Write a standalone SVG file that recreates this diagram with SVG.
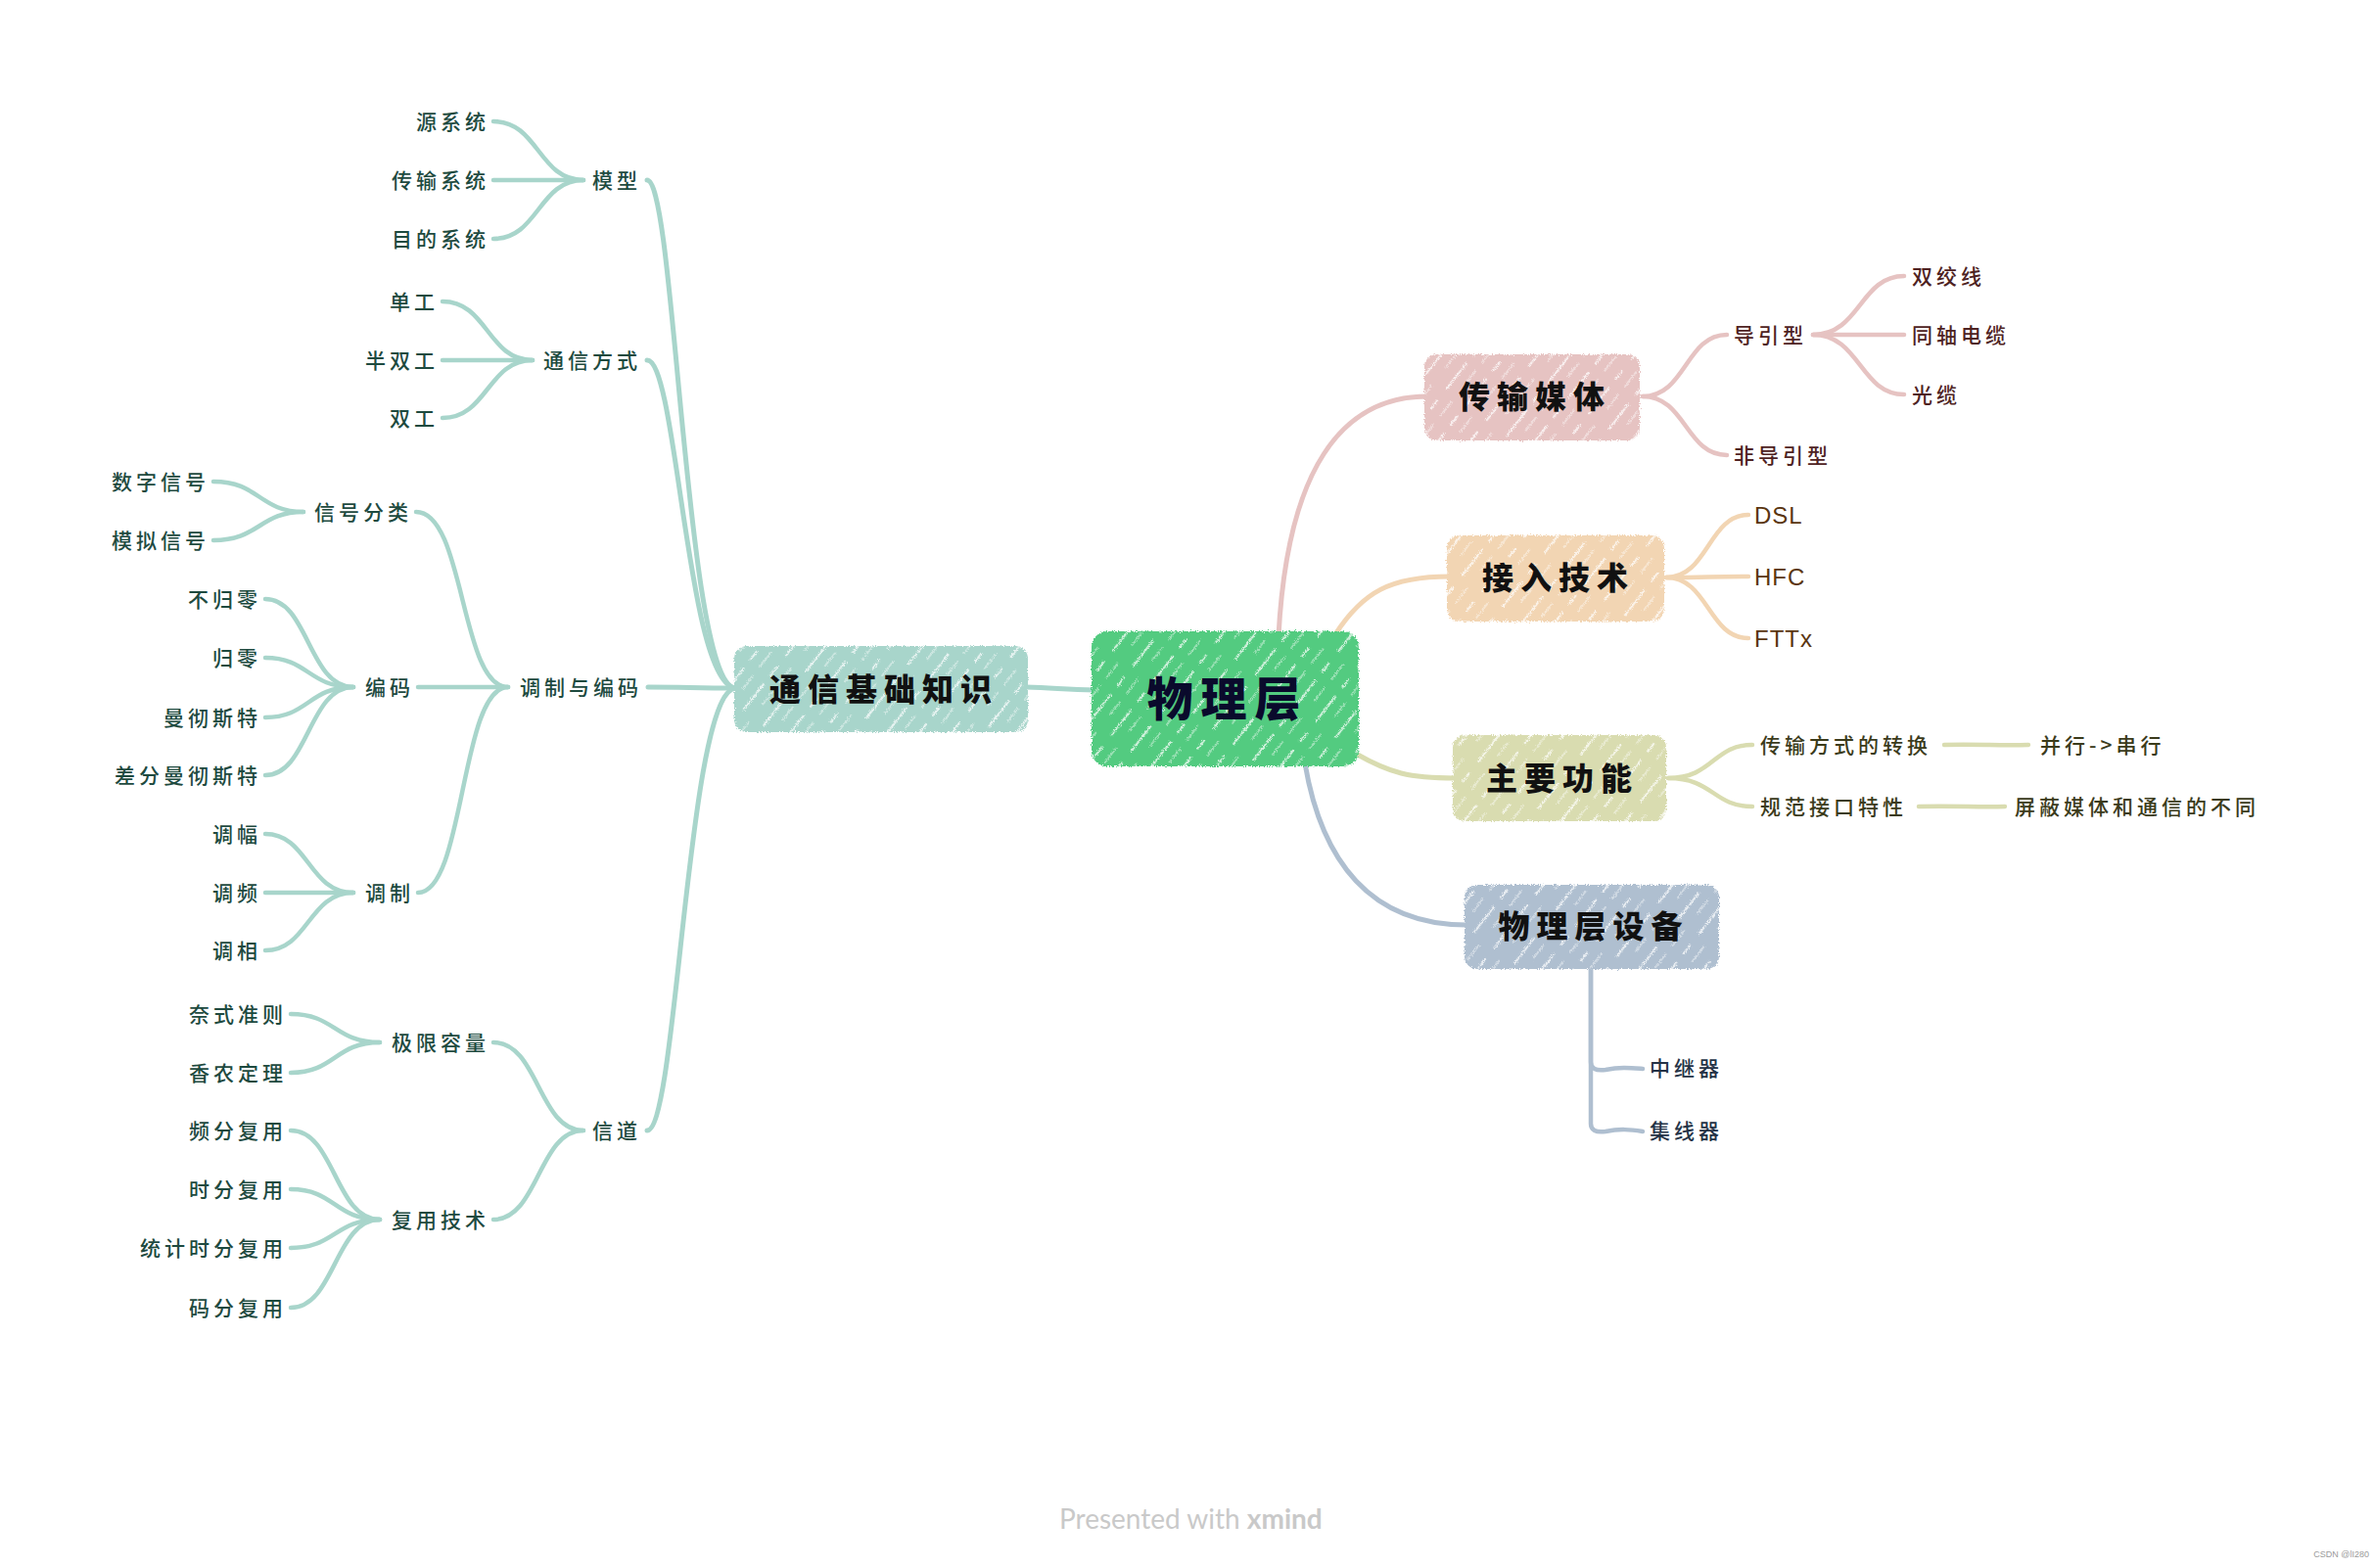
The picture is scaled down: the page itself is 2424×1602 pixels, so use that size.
<svg xmlns="http://www.w3.org/2000/svg" width="2424" height="1602" viewBox="0 0 2424 1602">
<defs>
  <pattern id="hatch" width="26" height="70" patternUnits="userSpaceOnUse" patternTransform="rotate(38)">
    <line x1="5" y1="0" x2="5" y2="70" stroke="#ffffff" stroke-width="2.2" stroke-opacity="0.7" stroke-dasharray="34 14 12 10"/>
    <line x1="17" y1="0" x2="17" y2="70" stroke="#ffffff" stroke-width="1.6" stroke-opacity="0.5" stroke-dasharray="18 22 20 10"/>
  </pattern>
  <filter id="rough" x="-5%" y="-10%" width="110%" height="120%">
    <feTurbulence type="fractalNoise" baseFrequency="0.9" numOctaves="2" seed="3" result="n"/>
    <feDisplacementMap in="SourceGraphic" in2="n" scale="5" xChannelSelector="R" yChannelSelector="G"/>
  </filter>
  <style>
    .c { fill: none; stroke-linecap: round; }
    .tl { stroke: #a8d5cb; }
    .pk { stroke: #e6c3c2; }
    .or { stroke: #f2d5b3; }
    .yg { stroke: #d9dcb0; }
    .bl { stroke: #afbfd0; }
    .w1 { stroke-width: 5; }
    .w2 { stroke-width: 4.5; }
    .sub { font-family: "Noto Sans CJK SC", "Noto Sans", sans-serif; font-size: 21px; font-weight: 500; letter-spacing: 4px; }
    .lt { fill: #1e4a3f; text-anchor: end; }
    .tpk { fill: #4e2222; }
    .tor { fill: #5a3510; }
    .tyg { fill: #3b3b1b; }
    .tbl { fill: #243246; }
    .main { font-family: "Noto Sans CJK SC", sans-serif; font-size: 32px; font-weight: 900; letter-spacing: 7px; fill: #111111; text-anchor: middle; }
    .lat { font-family: "Liberation Sans", Arial, sans-serif; font-size: 24px; letter-spacing: 1px; }
  </style>
</defs>
<rect width="2424" height="1602" fill="#ffffff"/>

<g id="connectors">
  <path class="c tl w1" d="M1048 702 C1080 703 1090 705 1118 705"/>
  <path class="c pk w1" d="M1306 650 C1315 480 1370 405 1458 405"/>
  <path class="c or w1" d="M1364 648 C1392 605 1420 589 1481 589"/>
  <path class="c yg w1" d="M1385 770 C1420 790 1440 795 1486 795"/>
  <path class="c bl w1" d="M1333 780 C1350 880 1400 945 1498 945"/>
  <path class="c tl w1" d="M752 703 C700 703 690 184 661 184"/>
  <path class="c tl w1" d="M752 703 C702 703 692 368 661 368"/>
  <path class="c tl w1" d="M752 703 C710 703 700 702 662 702"/>
  <path class="c tl w1" d="M752 703 C702 703 692 1155 661 1155"/>
  <path class="c tl w2" d="M596 184 C550 184 550 124 504 124"/>
  <path class="c tl w2" d="M596 184 C550 184 550 184 504 184"/>
  <path class="c tl w2" d="M596 184 C550 184 550 244 504 244"/>
  <path class="c tl w2" d="M544 368 C498 368 498 308 452 308"/>
  <path class="c tl w2" d="M544 368 C498 368 498 368 452 368"/>
  <path class="c tl w2" d="M544 368 C498 368 498 427 452 427"/>
  <path class="c tl w2" d="M519 702 C470 702 475 523 425 523"/>
  <path class="c tl w2" d="M519 702 C475 702 470 702 427 702"/>
  <path class="c tl w2" d="M519 702 C470 702 475 912 427 912"/>
  <path class="c tl w2" d="M310 523 C265 523 265 492 218 492"/>
  <path class="c tl w2" d="M310 523 C265 523 265 552 218 552"/>
  <path class="c tl w2" d="M361 702 C315 702 315 612 271 612"/>
  <path class="c tl w2" d="M361 702 C315 702 315 672 271 672"/>
  <path class="c tl w2" d="M361 702 C315 702 315 733 271 733"/>
  <path class="c tl w2" d="M361 702 C315 702 315 792 271 792"/>
  <path class="c tl w2" d="M361 912 C315 912 315 852 271 852"/>
  <path class="c tl w2" d="M361 912 C315 912 315 912 271 912"/>
  <path class="c tl w2" d="M361 912 C315 912 315 971 271 971"/>
  <path class="c tl w2" d="M596 1155 C550 1155 550 1065 504 1065"/>
  <path class="c tl w2" d="M596 1155 C550 1155 550 1246 504 1246"/>
  <path class="c tl w2" d="M388 1065 C342 1065 342 1036 297 1036"/>
  <path class="c tl w2" d="M388 1065 C342 1065 342 1096 297 1096"/>
  <path class="c tl w2" d="M388 1246 C342 1246 342 1155 297 1155"/>
  <path class="c tl w2" d="M388 1246 C342 1246 342 1215 297 1215"/>
  <path class="c tl w2" d="M388 1246 C342 1246 342 1275 297 1275"/>
  <path class="c tl w2" d="M388 1246 C342 1246 342 1336 297 1336"/>
  <path class="c pk w2" d="M1678 405 C1722 405 1722 342 1764 342"/>
  <path class="c pk w2" d="M1678 405 C1722 405 1722 465 1764 465"/>
  <path class="c pk w2" d="M1852 342 C1900 342 1900 282 1945 282"/>
  <path class="c pk w2" d="M1852 342 C1900 342 1900 342 1945 342"/>
  <path class="c pk w2" d="M1852 342 C1900 342 1900 403 1945 403"/>
  <path class="c or w2" d="M1702 590 C1745 590 1745 526 1786 526"/>
  <path class="c or w2" d="M1702 590 C1745 590 1745 589 1786 589"/>
  <path class="c or w2" d="M1702 590 C1745 590 1745 652 1786 652"/>
  <path class="c yg w2" d="M1704 795 C1750 795 1750 761 1790 761"/>
  <path class="c yg w2" d="M1704 795 C1750 795 1750 824 1790 824"/>
  <path class="c yg w2" d="M1986 761 C2020 760 2040 762 2072 761"/>
  <path class="c yg w2" d="M1960 824 C2000 823 2020 825 2048 824"/>
  <path class="c bl w2" d="M1625 990 L1625 1085 Q1625 1095 1640 1093 C1655 1090 1665 1091 1678 1092"/>
  <path class="c bl w2" d="M1625 990 L1625 1148 Q1625 1158 1640 1156 C1655 1153 1665 1154 1678 1156"/>
</g>

<g id="node-center">
  <rect x="1115" y="645" width="273" height="138" rx="16" fill="#52cb80" filter="url(#rough)"/>
  <rect x="1115" y="645" width="273" height="138" rx="16" fill="url(#hatch)" filter="url(#rough)"/>
  <text x="1254" y="731" class="main" style="font-size:47px;letter-spacing:8px;fill:#0a0a2c">物理层</text>
</g>

<g id="node-tongxin">
  <rect x="750" y="660" width="300" height="88" rx="13" fill="#a8d5cb" filter="url(#rough)"/>
  <rect x="750" y="660" width="300" height="88" rx="13" fill="url(#hatch)" filter="url(#rough)"/>
  <text x="903" y="716" class="main">通信基础知识</text>
</g>

<g id="node-chuanshu">
  <rect x="1455" y="362" width="220" height="88" rx="13" fill="#e6c3c2" filter="url(#rough)"/>
  <rect x="1455" y="362" width="220" height="88" rx="13" fill="url(#hatch)" filter="url(#rough)"/>
  <text x="1568" y="417" class="main">传输媒体</text>
</g>

<g id="node-jieru">
  <rect x="1478" y="547" width="222" height="88" rx="13" fill="#f2d5b3" filter="url(#rough)"/>
  <rect x="1478" y="547" width="222" height="88" rx="13" fill="url(#hatch)" filter="url(#rough)"/>
  <text x="1592" y="602" class="main">接入技术</text>
</g>

<g id="node-gongneng">
  <rect x="1484" y="751" width="218" height="88" rx="13" fill="#d9dcb0" filter="url(#rough)"/>
  <rect x="1484" y="751" width="218" height="88" rx="13" fill="url(#hatch)" filter="url(#rough)"/>
  <text x="1596" y="807" class="main">主要功能</text>
</g>

<g id="node-shebei">
  <rect x="1496" y="904" width="260" height="86" rx="13" fill="#afbfd0" filter="url(#rough)"/>
  <rect x="1496" y="904" width="260" height="86" rx="13" fill="url(#hatch)" filter="url(#rough)"/>
  <text x="1628" y="958" class="main">物理层设备</text>
</g>

<g id="left-topics" class="sub lt">
  <text x="655" y="192">模型</text>
  <text x="655" y="376">通信方式</text>
  <text x="656" y="710">调制与编码</text>
  <text x="655" y="1163">信道</text>
  <text x="500" y="132">源系统</text>
  <text x="500" y="192">传输系统</text>
  <text x="500" y="252">目的系统</text>
  <text x="448" y="316">单工</text>
  <text x="448" y="376">半双工</text>
  <text x="448" y="435">双工</text>
  <text x="421" y="531">信号分类</text>
  <text x="423" y="710">编码</text>
  <text x="423" y="920">调制</text>
  <text x="500" y="1073">极限容量</text>
  <text x="500" y="1254">复用技术</text>
  <text x="214" y="500">数字信号</text>
  <text x="214" y="560">模拟信号</text>
  <text x="267" y="620">不归零</text>
  <text x="267" y="680">归零</text>
  <text x="267" y="741">曼彻斯特</text>
  <text x="267" y="800">差分曼彻斯特</text>
  <text x="267" y="860">调幅</text>
  <text x="267" y="920">调频</text>
  <text x="267" y="979">调相</text>
  <text x="293" y="1044">奈式准则</text>
  <text x="293" y="1104">香农定理</text>
  <text x="293" y="1163">频分复用</text>
  <text x="293" y="1223">时分复用</text>
  <text x="293" y="1283">统计时分复用</text>
  <text x="293" y="1344">码分复用</text>
</g>

<g id="right-topics">
  <g class="sub tpk">
    <text x="1771" y="350">导引型</text>
    <text x="1771" y="473">非导引型</text>
    <text x="1953" y="290">双绞线</text>
    <text x="1953" y="350">同轴电缆</text>
    <text x="1953" y="411">光缆</text>
  </g>
  <g class="lat tor">
    <text x="1792" y="535">DSL</text>
    <text x="1792" y="598">HFC</text>
    <text x="1792" y="661">FTTx</text>
  </g>
  <g class="sub tyg">
    <text x="1798" y="769">传输方式的转换</text>
    <text x="1798" y="832">规范接口特性</text>
    <text x="2084" y="769">并行-&gt;串行</text>
    <text x="2058" y="832">屏蔽媒体和通信的不同</text>
  </g>
  <g class="sub tbl">
    <text x="1685" y="1099">中继器</text>
    <text x="1685" y="1163">集线器</text>
  </g>
</g>

<g id="footer">
  <text x="1082" y="1562" font-family="Lato, 'Open Sans', sans-serif" font-size="28" fill="#c9c9c9">Presented with <tspan font-weight="700">xmind</tspan></text>
  <text x="2420" y="1591" font-family="'Liberation Sans', Arial, sans-serif" font-size="9" fill="#9a9a9a" text-anchor="end">CSDN @lI280</text>
</g>
</svg>
